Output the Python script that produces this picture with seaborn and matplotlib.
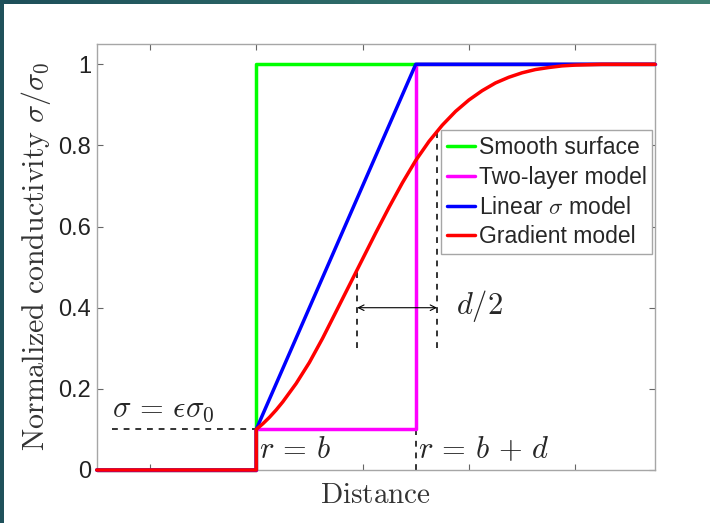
import numpy as np
import pandas as pd
import matplotlib
matplotlib.use("Agg")
import matplotlib.pyplot as plt
import seaborn as sns
from matplotlib.colors import LinearSegmentedColormap

# ---- data ----
x_smooth = [0.5, 2.0, 2.0, 5.75]
y_smooth = [0.0, 0.0, 1.0, 1.0]

x_two = [0.5, 2.0, 2.0, 3.5, 3.5, 5.75]
y_two = [0.0, 0.0, 0.1, 0.1, 1.0, 1.0]

x_lin = [0.5, 2.0, 2.0, 3.5, 5.75]
y_lin = [0.0, 0.0, 0.1, 1.0, 1.0]

x_grad = [0.5, 2.0, 2.0, 2.0625, 2.125, 2.1875, 2.25, 2.375, 2.5, 2.625, 2.75,
          2.875, 3.0, 3.125, 3.25, 3.375, 3.5, 3.625, 3.75, 3.875, 4.0,
          4.125, 4.25, 4.375, 4.5, 4.625, 4.75, 4.875, 5.0, 5.125, 5.25,
          5.5, 5.75]
y_grad = [0.0, 0.0, 0.1, 0.114, 0.13, 0.148, 0.168, 0.213, 0.265, 0.325, 0.39,
          0.455, 0.52, 0.585, 0.648, 0.708, 0.763, 0.81, 0.85, 0.884, 0.912,
          0.935, 0.954, 0.968, 0.979, 0.987, 0.992, 0.996, 0.998, 0.999, 1.0,
          1.0, 1.0]

series_labels = ["Smooth surface", "Two-layer model", r"Linear $\sigma$ model", "Gradient model"]
series_colors = ["#00ff00", "#ff00ff", "#0000ff", "#ff0000"]

y_ticks = [0, 0.2, 0.4, 0.6, 0.8, 1.0]
y_ticklabels = ["0", "0.2", "0.4", "0.6", "0.8", "1"]
x_ticks = [1, 2, 3, 4, 5]

# ---- style ----
sns.set_style("white")
plt.rcParams["font.family"] = ["Liberation Sans", "DejaVu Sans"]
plt.rcParams["mathtext.fontset"] = "cm"

fig = plt.figure(figsize=(7.10, 5.23), dpi=100)
fig.patch.set_facecolor("white")
ax = fig.add_axes([96.7 / 710, 1 - 470 / 523, (655 - 96.7) / 710, (470 - 44) / 523])

data = [(x_smooth, y_smooth), (x_two, y_two), (x_lin, y_lin), (x_grad, y_grad)]
for (xs, ys), lab, col in zip(data, series_labels, series_colors):
    df = pd.DataFrame({"x": xs, "y": ys})
    sns.lineplot(data=df, x="x", y="y", sort=False, estimator=None, color=col,
                 label=lab, linewidth=2.5, ax=ax, clip_on=False, zorder=3)

ax.set_xlim(0.5, 5.75)
ax.set_ylim(0, 1.05)
ax.set_xticks(x_ticks)
ax.set_xticklabels([])
ax.set_yticks(y_ticks)
ax.set_yticklabels(y_ticklabels)

for sp in ax.spines.values():
    sp.set_visible(True)
    sp.set_color("#a6a6a6")
    sp.set_linewidth(1.0)
ax.tick_params(axis="both", which="both", direction="in", length=4, width=0.8,
               color="#666666", top=True, right=True, bottom=True, left=True,
               labelsize=17, pad=4, labelcolor="#222222")

ax.set_xlabel(r"$\mathrm{Distance}$", fontsize=21, color="#333333", labelpad=4)
ax.set_ylabel(r"$\mathrm{Normalized\ conductivity}\ \sigma/\sigma_0$", fontsize=21.5,
              color="#333333")
ax.yaxis.set_label_coords(-0.078, 0.5)

# ---- annotations ----
dash_kw = dict(color="#333333", linestyle=(0, (3, 3)), linewidth=1.4, zorder=2)
ax.plot([0.645, 2.0], [0.1, 0.1], **dash_kw)
ax.plot([3.5, 3.5], [0.0, 0.1], **dash_kw)
ax.plot([2.95, 2.95], [0.3, 0.497], **dash_kw)
ax.plot([3.70, 3.70], [0.3, 0.84], **dash_kw)
ax.annotate("", xy=(2.95, 0.4), xytext=(3.70, 0.4),
            arrowprops=dict(arrowstyle="<->", color="black", lw=0.8,
                            shrinkA=0, shrinkB=0, mutation_scale=10))

ax.text(0.645, 0.113, r"$\sigma\,=\,\epsilon\sigma_0$", fontsize=22, ha="left", va="bottom")
ax.text(2.03, 0.05, r"$r\,=\,b$", fontsize=22, ha="left", va="center")
ax.text(3.52, 0.05, r"$r\,=\,b\,+\,d$", fontsize=22, ha="left", va="center")
ax.text(3.88, 0.405, r"$d/2$", fontsize=22, ha="left", va="center")

leg = ax.legend(loc="upper right", bbox_to_anchor=(0.995, 0.798), borderaxespad=0,
                fontsize=16.5, frameon=True, fancybox=False, framealpha=1,
                edgecolor="#a6a6a6", handlelength=1.25, handletextpad=0.15,
                labelspacing=0.3, borderpad=0.25)
leg.get_frame().set_linewidth(1.0)
leg.set_zorder(5)

# ---- teal border strips ----
cmap = LinearSegmentedColormap.from_list("teal", ["#1e4f5a", "#2d6a68", "#3f8073"])
top = fig.add_axes([0, 1 - 4 / 523, 1, 4 / 523])
top.imshow(np.linspace(0, 1, 256)[None, :], aspect="auto", cmap=cmap)
top.axis("off")
left = fig.add_axes([0, 0, 4 / 710, 1])
left.imshow(np.full((2, 2), 0.05), aspect="auto", cmap=cmap, vmin=0, vmax=1)
left.axis("off")

fig.savefig("out.png", dpi=100)
